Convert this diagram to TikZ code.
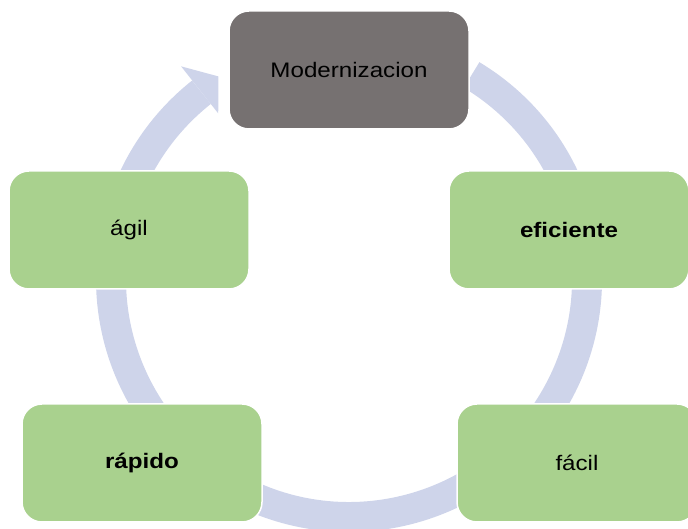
\documentclass[tikz,border=0pt]{standalone}
\usepackage{fontspec}
\setmainfont{Liberation Sans}[FakeStretch=1.15]
\definecolor{monvert}{RGB}{169,209,142}
\definecolor{mongris}{RGB}{118,113,113}
\definecolor{monlavande}{RGB}{206,212,234}

\begin{document}
\begin{tikzpicture}[x=1pt,y=1pt,
	etape/.style={rectangle,rounded corners=20pt,minimum width=240pt,minimum height=118pt,
		draw=white,line width=1.5pt,fill=monvert,font=\fontsize{21}{25}\selectfont},
	anneau/.style={draw=monlavande,line width=30pt}]
	\useasboundingbox (0,0) rectangle (688,529);
	% Anneau %
	\coordinate (centre) at (349,250);
	\draw[anneau] ([shift={(59:238)}]centre) arc[start angle=59,end angle=-231.7,radius=238];
	\fill[monlavande] ([shift={(128.3:211)}]centre) -- ([shift={(122.8:241)}]centre)
		-- ([shift={(128.3:271)}]centre) -- cycle;
	% Etapes %
	\node[etape,fill=mongris] (modern) at (349,459) {Modernizacion};
	\node[etape] (eficiente) at (569,299) {\textbf{eficiente}};
	\node[etape] (facil) at (577,66) {fácil};
	\node[etape] (rapido) at (142,66) {\textbf{rápido}};
	\node[etape] (agil) at (129,299) {ágil};
\end{tikzpicture}
\end{document}
